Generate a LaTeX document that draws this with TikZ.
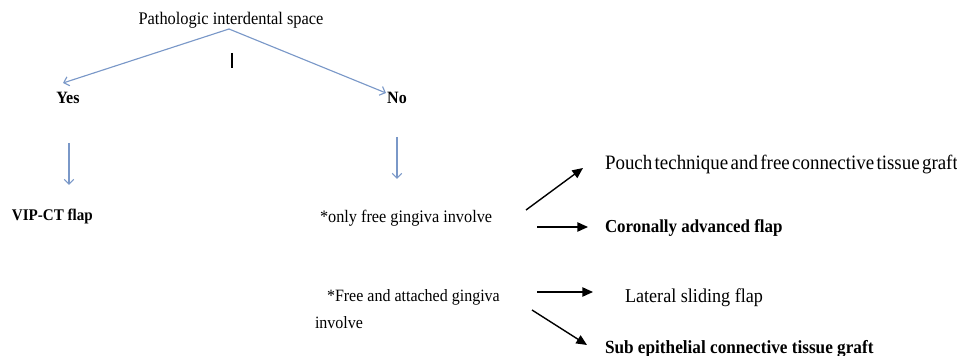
\documentclass[tikz,border=0pt]{standalone}
\usepackage{fontspec}
\setmainfont{Liberation Serif}
\newfontfamily\tightserif[WordSpace=0.5]{Liberation Serif}
\usetikzlibrary{arrows.meta,calc}
\definecolor{arrowblue}{RGB}{122,152,200}
\newcommand\tallbox[1]{\scalebox{1}[1.08]{#1}}
\tikzset{
  txt/.style={inner sep=0pt, outer sep=0pt, text=black},
  bluearrow/.style={draw=arrowblue, line width=0.85pt, -{Straight Barb[length=3.6pt,width=7pt,line width=0.85pt]}},
  blackarrow/.style={draw=black, line width=1.05pt, -{Triangle[length=8pt,width=7pt]}},
  tickmark/.style={draw=black, line width=1.4pt}
}
\begin{document}
\begin{tikzpicture}[x=0.75pt,y=-0.75pt]
\useasboundingbox (0,0) rectangle (957,356);
% nodes
\node[txt, font=\fontsize{12.3}{14}\selectfont] (title) at (231,20) {\tallbox{Pathologic interdental space}};
\node[txt, font=\fontsize{12}{14}\selectfont\bfseries] (yes) at (68,98) {\tallbox{Yes}};
\node[txt, font=\fontsize{12}{14}\selectfont\bfseries] (no) at (397,98) {\tallbox{No}};
\node[txt, anchor=west, font=\fontsize{11.3}{13}\selectfont\bfseries] (vip) at (12,217) {\tallbox{VIP-CT flap}};
\node[txt, anchor=west, font=\fontsize{12.2}{14}\selectfont] (only) at (320,218) {\tallbox{*only free gingiva involve}};
\node[txt, anchor=west, font=\fontsize{12}{14}\selectfont] (fa) at (327,297) {\tallbox{*Free and attached gingiva}};
\node[txt, anchor=west, font=\fontsize{12}{14}\selectfont] (inv) at (315,323) {\tallbox{involve}};
\node[txt, anchor=west, font=\tightserif\fontsize{14.2}{17}\selectfont] (pouch) at (605,165) {\tallbox{Pouch technique and free connective tissue graft}};
\node[txt, anchor=west, font=\fontsize{12.7}{15}\selectfont\bfseries] (cor) at (605,228) {\tallbox{Coronally advanced flap}};
\node[txt, anchor=west, font=\fontsize{13.6}{16}\selectfont] (lat) at (625,298) {\tallbox{Lateral sliding flap}};
\node[txt, anchor=west, font=\fontsize{12.9}{15}\selectfont\bfseries] (sub) at (605,349) {\tallbox{Sub epithelial connective tissue graft}};
% blue connectors
\coordinate (split) at ($(title.center)+(-2,9)$);
\draw[bluearrow] (split) -- ($(yes.center)+(-5,-15)$);
\draw[bluearrow] (split) -- ($(no.center)+(-11,-5)$);
\draw[tickmark] ($(title.center)+(1,33)$) -- ($(title.center)+(1,48)$);
\draw[bluearrow] ($(yes.center)+(1,45)$) -- ($(vip.west)+(57,-32)$);
\draw[bluearrow] ($(no.center)+(0,39)$) -- ($(only.west)+(77,-39)$);
% black connectors
\draw[blackarrow] ($(only.west)+(206,-8)$) -- ($(pouch.west)+(-22,3)$);
\draw[blackarrow] ($(only.west)+(217,9)$) -- ($(cor.west)+(-17,-1)$);
\draw[blackarrow] ($(fa.west)+(210,-5)$) -- ($(lat.west)+(-32,-6)$);
\draw[blackarrow] ($(fa.west)+(205,13)$) -- ($(sub.west)+(-18,-4)$);
\end{tikzpicture}
\end{document}
